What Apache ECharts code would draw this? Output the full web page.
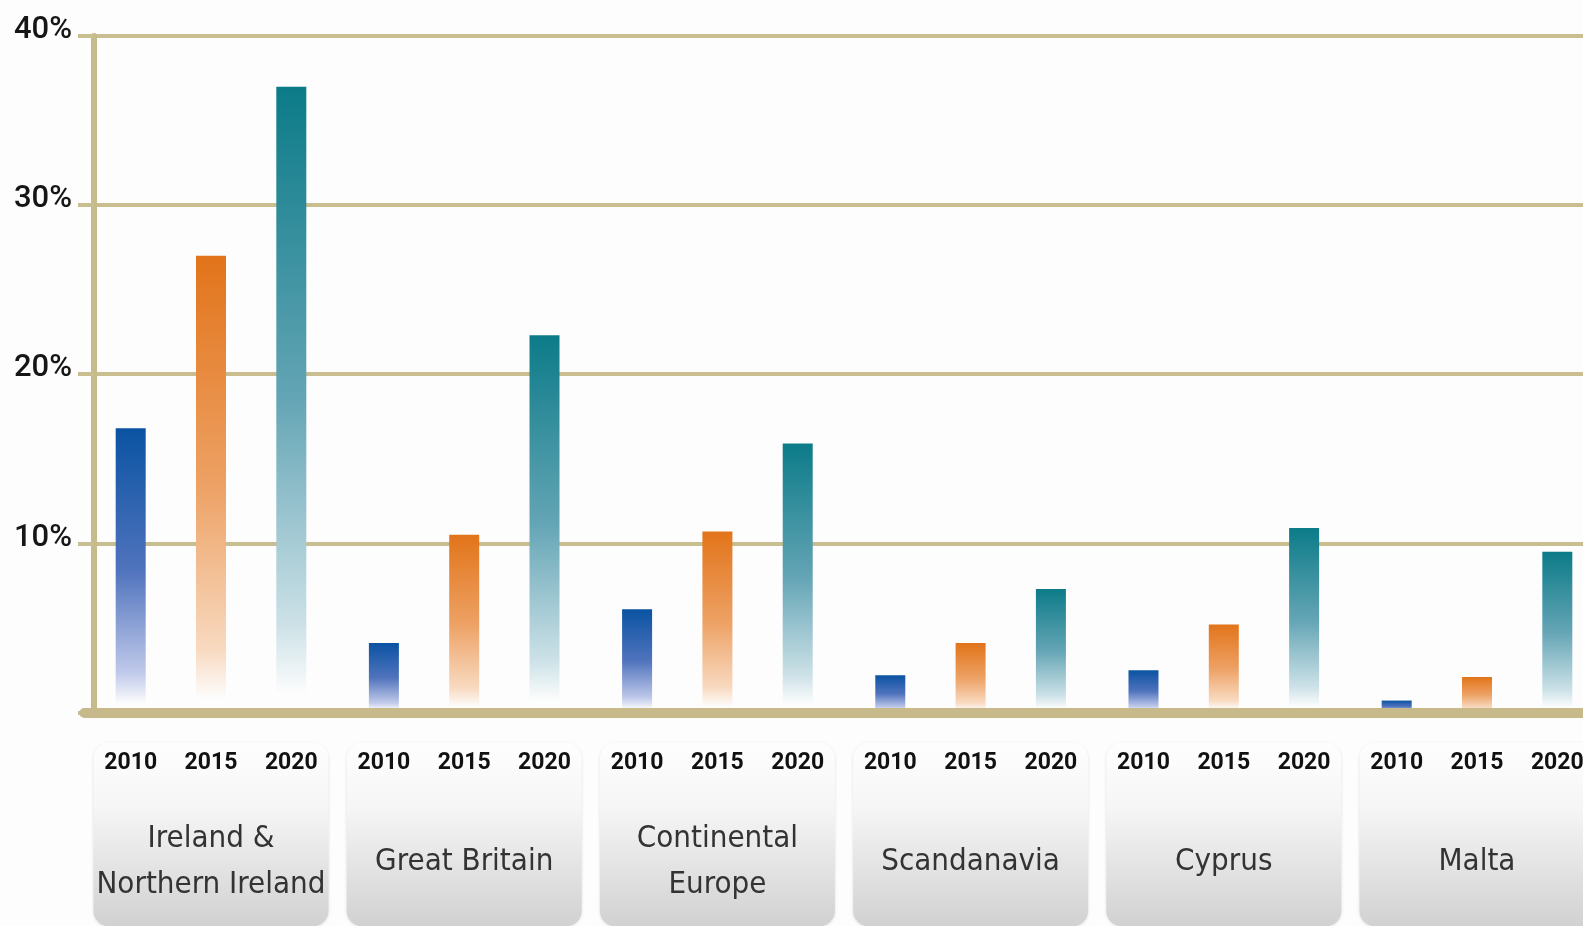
<!DOCTYPE html>
<html>
<head>
<meta charset="utf-8">
<script src="https://cdn.jsdelivr.net/npm/echarts@6/dist/echarts.min.js"></script>
<style>
html,body{margin:0;padding:0;background:#fdfdfd;}
#chart{width:1583px;height:926px;}
</style>
</head>
<body>
<div id="chart"></div>
<script>
// ---- data ----
const regions = ['Ireland &\nNorthern Ireland', 'Great Britain', 'Continental\nEurope', 'Scandanavia', 'Cyprus', 'Malta'];
const years = ['2010', '2015', '2020'];
const values2010 = [16.8, 4.1, 6.1, 2.2, 2.5, 0.7];
const values2015 = [27.0, 10.5, 10.7, 4.1, 5.2, 2.1];
const values2020 = [37.0, 22.3, 15.9, 7.3, 10.9, 9.5];
const yTicks = [0, 10, 20, 30, 40];

// ---- styles ----
const seriesValues = [values2010, values2015, values2020];
const gradStops = [
  ['#0a53a2', '#5073bd', '#bfc9ea'],
  ['#e2741a', '#eda164', '#f8d9bf'],
  ['#0c7b88', '#64a5b5', '#cce1e7']
];
const catFont = "'Liberation Sans Narrow', 'DejaVu Sans Condensed', sans-serif";

const chart = echarts.init(document.getElementById('chart'), null, {renderer: 'canvas'});

const series = years.map((y, i) => ({
  name: y,
  type: 'bar',
  data: seriesValues[i],
  barWidth: 30,
  barGap: '167.7%',
  itemStyle: {
    color: new echarts.graphic.LinearGradient(0, 0, 0, 1, [
      {offset: 0, color: gradStops[i][0]},
      {offset: 0.5, color: gradStops[i][1]},
      {offset: 0.86, color: gradStops[i][2]},
      {offset: 0.97, color: '#fdfdfd'},
      {offset: 1, color: '#fdfdfd'}
    ])
  },
  label: {
    show: true,
    position: 'bottom',
    distance: 39,
    formatter: '{a}',
    fontFamily: 'Roboto',
    fontWeight: 'bold',
    fontSize: 23,
    lineHeight: 23,
    color: '#111111'
  }
}));

const option = {
  backgroundColor: '#fdfdfd',
  animation: false,
  grid: {left: 84.4, right: -20.6, top: 36, bottom: 213.6, containLabel: false, outerBoundsMode: 'none'},
  xAxis: [
    {
      type: 'category',
      data: regions,
      position: 'bottom',
      z: 3,
      axisLine: {show: true, lineStyle: {color: '#c8b98a', width: 10}},
      axisTick: {show: false},
      axisLabel: {show: false},
      splitLine: {show: false}
    },
    {
      type: 'category',
      data: regions,
      position: 'bottom',
      z: 0,
      axisLine: {show: false},
      axisTick: {show: false},
      splitLine: {show: false},
      axisLabel: {
        interval: 0,
        margin: 30,
        width: 235,
        padding: [74, 0, 18, 0],
        borderRadius: 16,
        backgroundColor: new echarts.graphic.LinearGradient(0, 0, 0, 1, [
          {offset: 0, color: '#fefefe'},
          {offset: 0.35, color: '#f6f6f6'},
          {offset: 1, color: '#d1d1d1'}
        ]),
        shadowBlur: 3,
        shadowColor: 'rgba(0,0,0,0.12)',
        shadowOffsetY: 1,
        formatter: function (name) {
          const parts = name.split('\n');
          if (parts.length === 1) {
            return '{s| }\n{n|' + name + '}\n{s| }';
          }
          return parts.map(p => '{n|' + p + '}').join('\n');
        },
        rich: {
          n: {fontFamily: catFont, fontSize: 31, lineHeight: 46, color: '#333333', align: 'center'},
          s: {fontSize: 10, lineHeight: 23, align: 'center'}
        }
      }
    }
  ],
  yAxis: {
    type: 'value',
    min: yTicks[0],
    max: yTicks[yTicks.length - 1],
    interval: yTicks[1] - yTicks[0],
    offset: -9.6,
    axisLine: {show: true, lineStyle: {color: '#c6bb8a', width: 6}},
    axisTick: {show: true, length: 16, lineStyle: {color: '#c9be90', width: 4}},
    splitLine: {show: true, lineStyle: {color: '#c9be90', width: 4}},
    axisLabel: {
      margin: 22,
      formatter: v => (v === 0 ? '' : v + '%'),
      fontFamily: 'Roboto',
      fontWeight: 500,
      fontSize: 31,
      color: '#161616',
      verticalAlign: 'bottom',
      lineHeight: 11
    }
  },
  series: series
};

chart.setOption(option);
</script>
</body>
</html>
